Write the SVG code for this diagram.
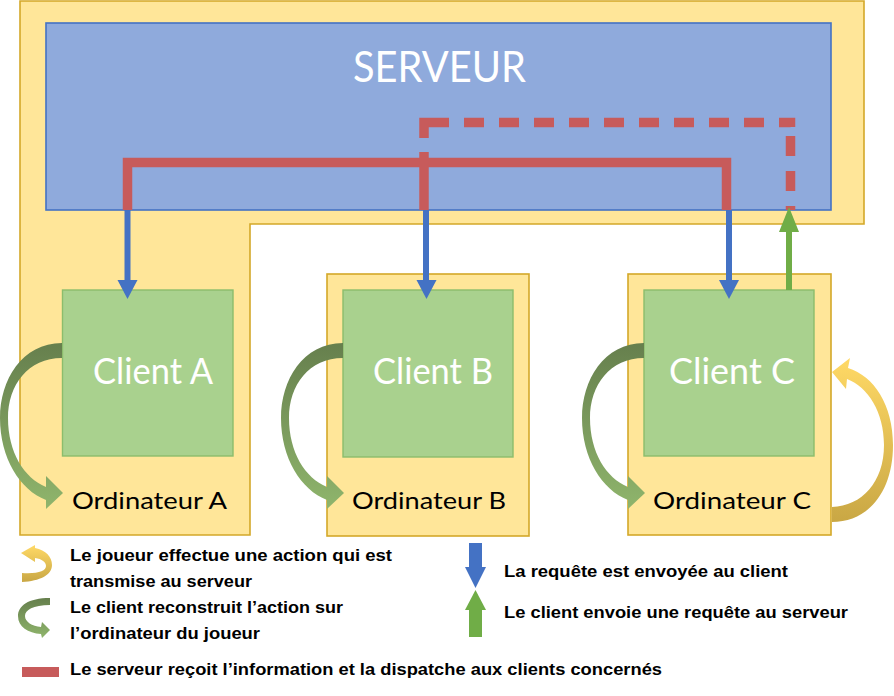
<svg xmlns="http://www.w3.org/2000/svg" width="894" height="696" viewBox="0 0 894 696">
<style>
.yel{fill:#ffe699;stroke:#d4a829;stroke-width:1.6}
.cli{fill:#a9d18e;stroke:#8cbd6c;stroke-width:1.4}
.srv{fill:#8faadc;stroke:#4472c4;stroke-width:1.6}
.ct{font-family:Lato,"Open Sans",sans-serif;font-size:36px;fill:#ffffff}
.ot{font-family:Lato,"Open Sans",sans-serif;font-size:24px;fill:#000000}
.lg{font-family:"Liberation Sans",Arial,sans-serif;font-size:16px;font-weight:bold;fill:#000000}
.red{fill:none;stroke:#c75b5b;stroke-width:9.5;stroke-linejoin:miter}
.blue{fill:#4472c4}
.green{fill:#70ad47}
</style>
<defs>
<linearGradient id="gG" x1="0" y1="0" x2="0" y2="1">
<stop offset="0" stop-color="#667f4d"/>
<stop offset="1" stop-color="#8fb56c"/>
</linearGradient>
<linearGradient id="gY" x1="0" y1="0" x2="0" y2="1">
<stop offset="0" stop-color="#ffd966"/>
<stop offset="1" stop-color="#c9a744"/>
</linearGradient>
</defs>

<g id="ordinateur-a">
<path class="yel" d="M20,1 H864 V224 H250 V535 H20 Z"/>
</g>
<g id="ordinateur-b">
<rect class="yel" x="327" y="274" width="202" height="262"/>
</g>
<g id="ordinateur-c">
<rect class="yel" x="628" y="274" width="203" height="261"/>
</g>

<g id="serveur">
<rect class="srv" x="46" y="23" width="785" height="187"/>
<text x="439.5" y="82" text-anchor="middle" font-family="Lato,'Open Sans',sans-serif" font-size="43" fill="#ffffff" textLength="173" lengthAdjust="spacingAndGlyphs">SERVEUR</text>
</g>

<g id="client-a">
<rect class="cli" x="62.5" y="290" width="170.5" height="166"/>
<text class="ct" x="93" y="384" textLength="120" lengthAdjust="spacingAndGlyphs">Client A</text>
</g>
<g id="client-b">
<rect class="cli" x="343" y="290" width="170" height="167"/>
<text class="ct" x="373" y="384" textLength="120" lengthAdjust="spacingAndGlyphs">Client B</text>
</g>
<g id="client-c">
<rect class="cli" x="644" y="290" width="170" height="166"/>
<text class="ct" x="669" y="384" textLength="126" lengthAdjust="spacingAndGlyphs">Client C</text>
</g>

<g id="labels">
<text class="ot" x="72" y="509" textLength="155" lengthAdjust="spacingAndGlyphs">Ordinateur A</text>
<text class="ot" x="352" y="509" textLength="154" lengthAdjust="spacingAndGlyphs">Ordinateur B</text>
<text class="ot" x="653" y="509" textLength="158" lengthAdjust="spacingAndGlyphs">Ordinateur C</text>
</g>

<g id="connectors">
<path class="red" d="M127.5,210 V162.5 H726.5 V210"/>
<path class="red" d="M424,152 V210"/>
<path class="red" d="M424,138 V122.5 H449"/>
<path class="red" d="M464,122.5 H779" stroke-dasharray="20 15"/>
<path class="red" d="M779,122.5 H790.5 V127"/>
<path class="red" d="M790.5,136 V210" stroke-dasharray="20 15"/>
<rect class="blue" x="124.5" y="210" width="6" height="71"/>
<polygon class="blue" points="117.5,280 137.5,280 127.5,299"/>
<rect class="blue" x="423" y="210" width="6" height="71"/>
<polygon class="blue" points="416.5,280 436.5,280 426.5,299"/>
<rect class="blue" x="726" y="210" width="6" height="71"/>
<polygon class="blue" points="719,280 739,280 729,299"/>
<rect class="green" x="786" y="231" width="6" height="59"/>
<polygon class="green" points="779,232 799,232 789,207"/>
<path fill="url(#gG)" d="M62,343 C22,343 0,380 0,418 C0,458 20,490 46,500 L46,509 L63,493 L46,476 L46,487 C24,478 8,452 8,418 C8,385 28,358 62,358 Z"/>
<path fill="url(#gG)" d="M343,343 C303,343 281,380 281,418 C281,458 301,490 327,500 L327,509 L344,493 L327,476 L327,487 C305,478 289,452 289,418 C289,385 309,358 343,358 Z"/>
<path fill="url(#gG)" d="M644,343 C604,343 582,380 582,418 C582,458 602,490 628,500 L628,509 L645,493 L628,476 L628,487 C606,478 590,452 590,418 C590,385 610,358 644,358 Z"/>
<path fill="url(#gY)" d="M832,522 C868,522 893,492 893,445 C893,405 874,376 848,368 L850,358 L832,372 L846,389 L847,379 C868,387 884,412 884,445 C884,482 862,506 832,507 Z"/>
</g>

<g id="legend">
<path fill="url(#gY)" d="M22,582 C40,581 52,575 52,565 C52,557 46,550 35,548 L35,545 L21,553 L35,562 L35,558 C42,559 46,562 46,566 C46,571 38,574 22,573 Z"/>
<path fill="url(#gG)" d="M50,598 C28,598 18,606 18,616 C18,627 28,633 41,634 L42,638 L50,630 L42,622 L41,627 C32,626 25,622 25,616 C25,610 33,605 50,605 Z"/>
<rect x="22" y="667" width="37" height="10" fill="#c75b5b"/>
<rect class="blue" x="469" y="543" width="13" height="25"/>
<polygon class="blue" points="465,567 486,567 475.5,588"/>
<rect class="green" x="469" y="609" width="13" height="28"/>
<polygon class="green" points="465,610 486,610 475.5,590"/>
<text class="lg" x="70" y="561" textLength="322" lengthAdjust="spacingAndGlyphs">Le joueur effectue une action qui est</text>
<text class="lg" x="70" y="587" textLength="182" lengthAdjust="spacingAndGlyphs">transmise au serveur</text>
<text class="lg" x="70" y="613" textLength="273" lengthAdjust="spacingAndGlyphs">Le client reconstruit l’action sur</text>
<text class="lg" x="70" y="639" textLength="190" lengthAdjust="spacingAndGlyphs">l’ordinateur du joueur</text>
<text class="lg" x="70" y="675" textLength="592" lengthAdjust="spacingAndGlyphs">Le serveur reçoit l’information et la dispatche aux clients concernés</text>
<text class="lg" x="504" y="577" textLength="284" lengthAdjust="spacingAndGlyphs">La requête est envoyée au client</text>
<text class="lg" x="504" y="618" textLength="344" lengthAdjust="spacingAndGlyphs">Le client envoie une requête au serveur</text>
</g>
</svg>
